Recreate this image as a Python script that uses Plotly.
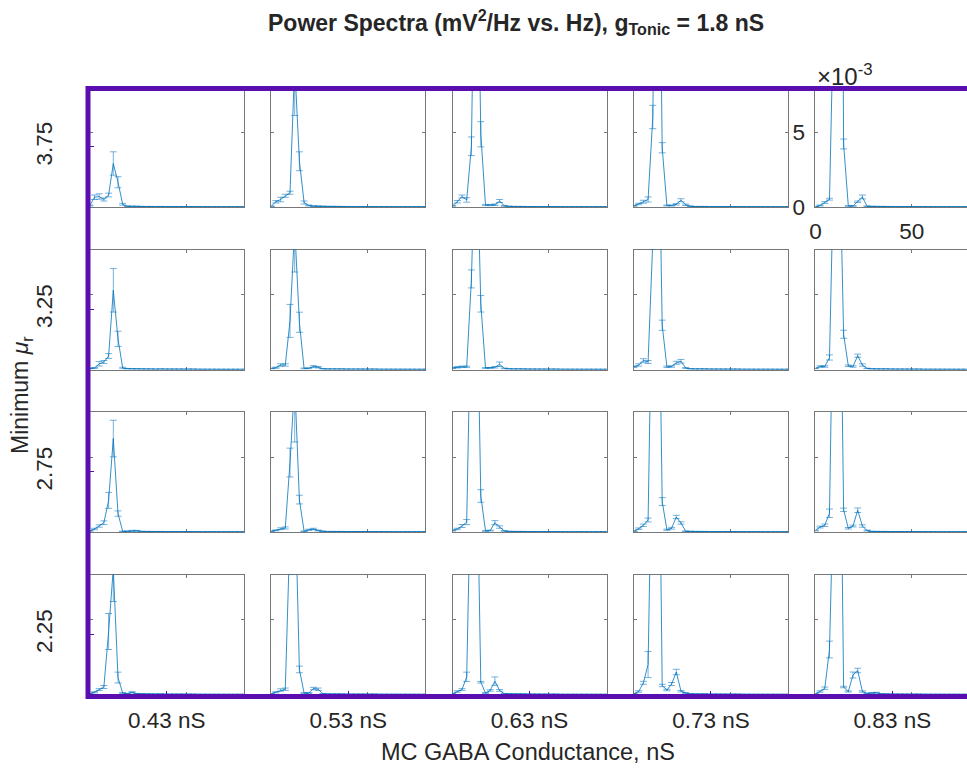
import plotly.graph_objects as go

W, H = 967, 768

# ---------------- data ----------------
# frequency bins (Hz)
FREQS = [0.00, 2.44, 4.88, 7.32, 9.77, 12.21, 14.65, 17.09, 19.53, 21.97,
         24.41, 26.86, 29.30, 31.74, 34.18, 36.62, 39.06, 41.50, 43.95, 46.39,
         48.83, 51.27, 53.71, 56.15, 58.59, 61.04, 63.48, 65.92, 68.36, 70.80,
         73.24, 75.68, 78.13, 80.57]

# common near-zero tail (36.6 - 80.6 Hz), units of 1e-3 mV^2/Hz
TAIL_MEAN = [0.03, 0.02, 0.02, 0.02, 0.02, 0.02, 0.02, 0.02, 0.01, 0.01,
             0.01, 0.01, 0.01, 0.01, 0.01, 0.01, 0.01, 0.01, 0.01]
TAIL_ERR = [0.01, 0.01, 0.01, 0.01, 0.01, 0.01, 0.01, 0.01, 0.01, 0.01,
            0.01, 0.01, 0.01, 0.01, 0.01, 0.01, 0.01, 0.01, 0.01]

MU_R = [3.75, 3.25, 2.75, 2.25]                 # rows, top -> bottom
MU_LABELS = ["3.75", "3.25", "2.75", "2.25"]
G_MC = [0.43, 0.53, 0.63, 0.73, 0.83]           # columns
G_LABELS = ["0.43 nS", "0.53 nS", "0.63 nS", "0.73 nS", "0.83 nS"]

# mean power (x1e-3 mV^2/Hz), 0 - 34.2 Hz, one list per g_MC column
MEAN_375 = [
    [0.10, 0.65, 0.70, 0.50, 0.80, 2.90, 1.65, 0.18, 0.05, 0.04, 0.04, 0.03, 0.03, 0.03, 0.02],
    [0.05, 0.35, 0.50, 0.75, 0.95, 9.50, 3.05, 0.30, 0.10, 0.06, 0.05, 0.04, 0.03, 0.03, 0.03],
    [0.08, 0.35, 0.70, 0.47, 4.05, 25.0, 4.85, 0.13, 0.13, 0.15, 0.40, 0.08, 0.04, 0.03, 0.03],
    [0.08, 0.20, 0.35, 0.50, 6.00, 30.0, 3.95, 0.10, 0.10, 0.18, 0.45, 0.15, 0.05, 0.03, 0.03],
    [0.02, 0.10, 0.30, 0.52, 15.0, 60.0, 4.20, 0.07, 0.07, 0.35, 0.67, 0.05, 0.04, 0.03, 0.03],
]
ERR_375 = [
    [0.03, 0.15, 0.18, 0.10, 0.12, 0.78, 0.37, 0.06, 0.02, 0.02, 0.02, 0.01, 0.01, 0.01, 0.01],
    [0.02, 0.08, 0.15, 0.10, 0.10, 3.40, 0.63, 0.10, 0.03, 0.02, 0.02, 0.01, 0.01, 0.01, 0.01],
    [0.03, 0.08, 0.10, 0.15, 0.62, 6.00, 0.84, 0.04, 0.04, 0.05, 0.10, 0.03, 0.02, 0.01, 0.01],
    [0.03, 0.05, 0.10, 0.17, 0.78, 6.00, 0.34, 0.03, 0.03, 0.05, 0.10, 0.05, 0.02, 0.01, 0.01],
    [0.01, 0.03, 0.06, 0.06, 3.00, 10.0, 0.33, 0.02, 0.02, 0.05, 0.13, 0.02, 0.01, 0.01, 0.01],
]
MEAN_325 = [
    [0.07, 0.10, 0.38, 0.50, 0.90, 5.28, 2.04, 0.10, 0.05, 0.04, 0.04, 0.03, 0.03, 0.03, 0.02],
    [0.07, 0.12, 0.30, 0.30, 3.24, 9.50, 3.15, 0.07, 0.08, 0.20, 0.15, 0.04, 0.03, 0.03, 0.03],
    [0.10, 0.15, 0.18, 0.18, 6.04, 17.0, 4.38, 0.10, 0.10, 0.15, 0.35, 0.07, 0.04, 0.03, 0.03],
    [0.18, 0.30, 0.60, 0.50, 8.60, 22.0, 2.95, 0.18, 0.20, 0.45, 0.55, 0.10, 0.04, 0.03, 0.03],
    [0.07, 0.20, 0.20, 0.80, 15.0, 17.0, 2.35, 0.25, 0.20, 0.92, 0.30, 0.07, 0.04, 0.03, 0.03],
]
ERR_325 = [
    [0.02, 0.03, 0.15, 0.10, 0.16, 1.45, 0.51, 0.05, 0.02, 0.02, 0.02, 0.01, 0.01, 0.01, 0.01],
    [0.02, 0.04, 0.08, 0.08, 1.10, 3.00, 0.67, 0.03, 0.03, 0.06, 0.05, 0.02, 0.01, 0.01, 0.01],
    [0.03, 0.05, 0.05, 0.05, 0.60, 5.00, 0.55, 0.03, 0.03, 0.05, 0.15, 0.03, 0.01, 0.01, 0.01],
    [0.05, 0.08, 0.12, 0.10, 0.60, 6.00, 0.34, 0.05, 0.05, 0.10, 0.12, 0.03, 0.01, 0.01, 0.01],
    [0.02, 0.05, 0.05, 0.17, 3.00, 4.00, 0.27, 0.05, 0.05, 0.11, 0.08, 0.02, 0.01, 0.01, 0.01],
]
MEAN_275 = [
    [0.07, 0.20, 0.40, 0.62, 2.11, 6.23, 1.23, 0.04, 0.05, 0.08, 0.08, 0.04, 0.03, 0.03, 0.02],
    [0.05, 0.11, 0.22, 0.27, 4.63, 10.0, 2.16, 0.05, 0.15, 0.20, 0.10, 0.04, 0.03, 0.03, 0.03],
    [0.10, 0.20, 0.40, 0.66, 17.0, 20.0, 2.40, 0.07, 0.10, 0.62, 0.33, 0.07, 0.04, 0.03, 0.03],
    [0.05, 0.22, 0.45, 0.80, 20.0, 24.0, 2.03, 0.15, 0.25, 1.00, 0.60, 0.05, 0.04, 0.03, 0.03],
    [0.10, 0.33, 0.45, 1.25, 21.0, 26.0, 1.48, 0.25, 0.40, 1.45, 0.40, 0.10, 0.04, 0.03, 0.03],
]
ERR_275 = [
    [0.02, 0.05, 0.08, 0.12, 0.53, 1.22, 0.18, 0.02, 0.02, 0.03, 0.03, 0.01, 0.01, 0.01, 0.01],
    [0.02, 0.03, 0.06, 0.07, 0.96, 4.00, 0.29, 0.02, 0.04, 0.05, 0.03, 0.01, 0.01, 0.01, 0.01],
    [0.03, 0.05, 0.10, 0.17, 3.00, 5.00, 0.42, 0.02, 0.03, 0.14, 0.08, 0.02, 0.01, 0.01, 0.01],
    [0.02, 0.05, 0.08, 0.13, 3.00, 5.00, 0.26, 0.04, 0.06, 0.11, 0.08, 0.02, 0.01, 0.01, 0.01],
    [0.03, 0.06, 0.08, 0.28, 3.00, 8.00, 0.11, 0.05, 0.06, 0.15, 0.08, 0.03, 0.01, 0.01, 0.01],
]
MEAN_225 = [
    [0.05, 0.15, 0.33, 0.50, 4.20, 8.40, 1.13, 0.10, 0.05, 0.15, 0.05, 0.04, 0.03, 0.03, 0.02],
    [0.05, 0.15, 0.30, 0.35, 11.0, 14.4, 1.67, 0.10, 0.10, 0.40, 0.35, 0.05, 0.03, 0.03, 0.03],
    [0.05, 0.20, 0.33, 1.18, 16.5, 19.0, 0.82, 0.10, 0.27, 0.89, 0.27, 0.05, 0.04, 0.03, 0.03],
    [0.05, 0.20, 0.78, 2.00, 20.0, 28.0, 0.60, 0.30, 0.70, 1.50, 0.22, 0.10, 0.04, 0.03, 0.03],
    [0.05, 0.20, 0.42, 3.00, 15.5, 28.0, 0.50, 0.20, 1.30, 1.60, 0.20, 0.07, 0.10, 0.12, 0.04],
]
ERR_225 = [
    [0.02, 0.04, 0.06, 0.10, 1.20, 2.20, 0.36, 0.03, 0.02, 0.04, 0.02, 0.01, 0.01, 0.01, 0.01],
    [0.02, 0.04, 0.08, 0.08, 3.00, 4.00, 0.22, 0.03, 0.03, 0.08, 0.08, 0.02, 0.01, 0.01, 0.01],
    [0.02, 0.05, 0.06, 0.31, 3.00, 5.00, 0.05, 0.03, 0.05, 0.28, 0.06, 0.02, 0.01, 0.01, 0.01],
    [0.02, 0.05, 0.10, 0.87, 4.00, 5.00, 0.08, 0.05, 0.10, 0.18, 0.05, 0.03, 0.01, 0.01, 0.01],
    [0.02, 0.05, 0.08, 0.56, 4.00, 6.00, 0.05, 0.04, 0.20, 0.15, 0.05, 0.02, 0.03, 0.03, 0.01],
]

MEANS = [MEAN_375, MEAN_325, MEAN_275, MEAN_225]
ERRS = [ERR_375, ERR_325, ERR_275, ERR_225]

# ---------------- layout helpers ----------------
def px_x(p):
    return p / W


def px_y(p):
    return 1 - p / H


COL_LEFT0, COL_PITCH, COL_W = 89.8, 181.4, 154.0
ROW_TOP0, ROW_PITCH, ROW_H = 87.0, 162.5, 120.0
XMAX, YMAX = 80.0, 8.0

BLUE = "#0072BD"
EBAR = "rgba(0,114,189,0.6)"
AXC = "#777777"
PURPLE = "#5b0eb0"
TXT = "#262626"
FONT = "Liberation Sans, Arial, sans-serif"
TSIZE = 22.5

fig = go.Figure()
layout = dict()

for r in range(4):
    for c in range(5):
        idx = r * 5 + c + 1
        xa = "x" if idx == 1 else f"x{idx}"
        ya = "y" if idx == 1 else f"y{idx}"
        xkey = "xaxis" if idx == 1 else f"xaxis{idx}"
        ykey = "yaxis" if idx == 1 else f"yaxis{idx}"

        left = COL_LEFT0 + c * COL_PITCH
        right = left + COL_W
        xr = XMAX
        if right > W:
            xr = XMAX * (W - left) / COL_W
            right = W
        top = ROW_TOP0 + r * ROW_PITCH
        bottom = top + ROW_H

        y_vals = MEANS[r][c] + TAIL_MEAN
        e_vals = ERRS[r][c] + TAIL_ERR
        fig.add_trace(go.Scatter(
            x=FREQS, y=y_vals, xaxis=xa, yaxis=ya, mode="lines",
            line=dict(color=BLUE, width=0.8),
            error_y=dict(type="data", array=e_vals, visible=True,
                         color=EBAR, thickness=0.9, width=3.5),
            showlegend=False, hoverinfo="skip",
        ))

        labelled = (r == 0 and c == 4)
        layout[xkey] = dict(
            domain=[px_x(left), px_x(right)], range=[0, xr], anchor=ya,
            showline=True, linecolor=AXC, linewidth=1, mirror="ticks",
            ticks="inside", ticklen=3, tickcolor=AXC, tickwidth=1,
            tickvals=[0, 50], showticklabels=labelled,
            tickfont=dict(size=TSIZE, color=TXT, family=FONT),
            ticklabelstandoff=4,
            showgrid=False, zeroline=False, layer="below traces",
            fixedrange=True, automargin=False,
        )
        layout[ykey] = dict(
            domain=[px_y(bottom), px_y(top)], range=[0, YMAX], anchor=xa,
            showline=True, linecolor=AXC, linewidth=1,
            mirror=("ticks" if c < 4 else False),
            ticks="inside", ticklen=3, tickcolor=AXC, tickwidth=1,
            tickvals=[0, 5], ticktext=["0", "5"], showticklabels=labelled,
            tickfont=dict(size=TSIZE, color=TXT, family=FONT),
            ticklabelstandoff=5,
            showgrid=False, zeroline=False, layer="below traces",
            fixedrange=True, automargin=False,
        )

# outer axes (MC GABA conductance vs minimum mu_r) -- no data, just scale
fig.add_trace(go.Scatter(x=[None], y=[None], xaxis="x21", yaxis="y21",
                         mode="markers", showlegend=False, hoverinfo="skip"))
FR_L, FR_T, FR_B = 88.0, 88.5, 696.5
layout["xaxis21"] = dict(
    domain=[px_x(FR_L), 1.0], range=[0.38656, 0.87113], anchor="y21",
    tickvals=G_MC, ticktext=G_LABELS, ticks="inside", ticklen=6,
    tickcolor=PURPLE, tickwidth=1, showline=False, showgrid=False,
    zeroline=False, tickfont=dict(size=TSIZE, color=TXT, family=FONT),
    ticklabelstandoff=8, fixedrange=True, automargin=False,
)
layout["yaxis21"] = dict(
    domain=[px_y(FR_B), px_y(FR_T)], range=[2.059, 3.93], anchor="x21",
    tickvals=MU_R, ticktext=MU_LABELS, ticks="inside", ticklen=6,
    tickcolor=PURPLE, tickwidth=1, showline=False, showgrid=False,
    zeroline=False, tickangle=-90,
    tickfont=dict(size=TSIZE, color=TXT, family=FONT),
    ticklabelstandoff=31, fixedrange=True, automargin=False,
)

fig.update_layout(
    width=W, height=H,
    margin=dict(l=0, r=0, t=0, b=0, autoexpand=False),
    paper_bgcolor="white", plot_bgcolor="rgba(0,0,0,0)",
    font=dict(family=FONT, color=TXT),
    shapes=[dict(type="rect", xref="paper", yref="paper",
                 x0=px_x(FR_L), x1=1.03, y0=px_y(FR_B), y1=px_y(FR_T),
                 line=dict(color=PURPLE, width=5), layer="above")],
    annotations=[
        dict(text="<b>Power Spectra (mV<sup>2</sup>/Hz vs. Hz), g<sub>Tonic</sub> = 1.8 nS</b>",
             x=px_x(516), y=px_y(22), xref="paper", yref="paper",
             xanchor="center", yanchor="middle", showarrow=False,
             font=dict(size=23, color=TXT, family="Liberation Sans Narrow, Liberation Sans, Arial")),
        dict(text="×10<sup>-3</sup>", x=px_x(815), y=px_y(75), xref="paper", yref="paper",
             xanchor="left", yanchor="middle", showarrow=False,
             font=dict(size=24, color=TXT, family=FONT)),
        dict(text="Minimum <i>μ</i><sub>r</sub>", x=px_x(21), y=px_y(395),
             xref="paper", yref="paper", xanchor="center", yanchor="middle",
             textangle=-90, showarrow=False,
             font=dict(size=23, color=TXT, family=FONT)),
        dict(text="MC GABA Conductance, nS", x=px_x(528), y=px_y(752),
             xref="paper", yref="paper", xanchor="center", yanchor="middle",
             showarrow=False, font=dict(size=23.5, color=TXT, family=FONT)),
    ],
    **layout,
)

fig.write_html("out.html")
